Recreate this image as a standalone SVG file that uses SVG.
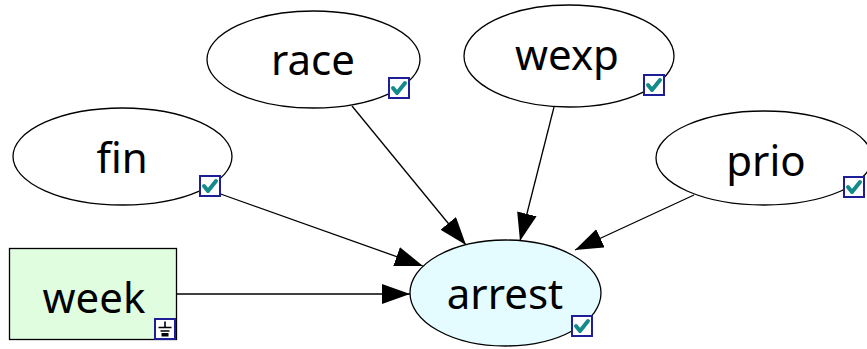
<svg xmlns="http://www.w3.org/2000/svg" xmlns:xlink="http://www.w3.org/1999/xlink" width="867" height="349" viewBox="0 0 867 349">
  <style>
    .node { fill: #ffffff; stroke: #000000; stroke-width: 1.3; }
    .target { fill: #e4fcff; }
    .input { fill: #e0fde0; }
    .label { font-family: "Noto Sans", "Open Sans", sans-serif; font-size: 42px; fill: #000000; text-anchor: middle; }
    .edge { stroke: #000000; stroke-width: 1.3; fill: none; marker-end: url(#arrow); }
  </style>
  <defs>
    <marker id="arrow" markerUnits="userSpaceOnUse" markerWidth="30" markerHeight="22" refX="28" refY="10" orient="auto">
      <path d="M0,0 L28,10 L0,20 Z" fill="#000000"/>
    </marker>
    <!-- checked-state badge -->
    <g id="check">
      <rect x="1" y="1" width="20" height="20" fill="#ffffff" stroke="#1e1e96" stroke-width="2"/>
      <path d="M5,11 L9,16 L17,6" fill="none" stroke="#148a8a" stroke-width="4" stroke-linecap="round" stroke-linejoin="round"/>
    </g>
    <!-- ground badge -->
    <g id="ground">
      <rect x="1" y="1" width="20" height="20" fill="#ffffff" stroke="#1e1e96" stroke-width="2"/>
      <path d="M11,3.5 V9 M4.5,9.5 H17.5 M6.5,13 H15.5" stroke="#000000" stroke-width="1.6" fill="none"/>
      <rect x="7.5" y="15" width="7" height="3.5" fill="#000000"/>
    </g>
  </defs>

  <g id="connectors">
    <line class="edge" x1="352" y1="106" x2="466" y2="245"/>
    <line class="edge" x1="554" y1="107" x2="520" y2="241"/>
    <line class="edge" x1="215" y1="192" x2="423" y2="266"/>
    <line class="edge" x1="694" y1="195" x2="575" y2="250"/>
    <line class="edge" x1="177" y1="294" x2="410" y2="294"/>
  </g>

  <g id="race">
    <ellipse class="node" cx="313.5" cy="59.5" rx="106.5" ry="48.5"/>
    <text class="label" x="313" y="75">race</text>
    <use xlink:href="#check" x="388" y="77"/>
  </g>

  <g id="wexp">
    <ellipse class="node" cx="569" cy="56" rx="105" ry="51"/>
    <text class="label" x="567" y="70">wexp</text>
    <use xlink:href="#check" x="643" y="74"/>
  </g>

  <g id="fin">
    <ellipse class="node" cx="122.5" cy="156.5" rx="109.5" ry="48.5"/>
    <text class="label" x="122" y="173">fin</text>
    <use xlink:href="#check" x="199" y="175"/>
  </g>

  <g id="prio">
    <ellipse class="node" cx="764" cy="158" rx="108" ry="47"/>
    <text class="label" x="766" y="176">prio</text>
    <use xlink:href="#check" x="843" y="176"/>
  </g>

  <g id="arrest">
    <ellipse class="node target" cx="505.5" cy="293" rx="95.5" ry="53"/>
    <text class="label" x="505" y="309">arrest</text>
    <use xlink:href="#check" x="571" y="315"/>
  </g>

  <g id="week">
    <rect class="node input" x="9.5" y="248.5" width="167" height="91"/>
    <text class="label" x="94" y="313">week</text>
    <use xlink:href="#ground" x="154" y="318"/>
  </g>
</svg>
